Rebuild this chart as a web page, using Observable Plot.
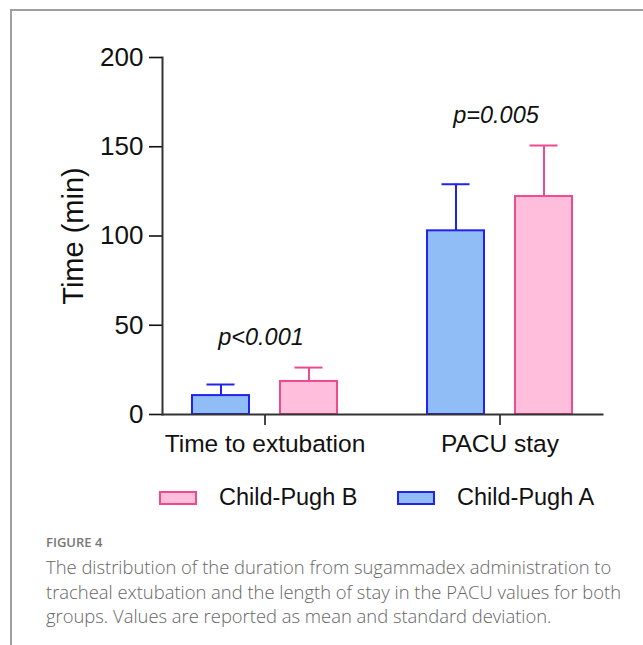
<!DOCTYPE html>
<html>
<head>
<meta charset="utf-8">
<script src="https://cdn.jsdelivr.net/npm/d3@7"></script>
<script src="https://cdn.jsdelivr.net/npm/@observablehq/plot@0.6"></script>
<style>
  html, body { margin: 0; padding: 0; background: #fff; }
  body { width: 643px; height: 645px; position: relative; overflow: hidden; font-family: "Liberation Sans", Arial, sans-serif; }
  #frame { position: absolute; left: 10px; top: 9px; right: -5px; bottom: -5px; border-top: 2px solid #a0a0a0; border-left: 2px solid #a0a0a0; }
  #chart { position: absolute; left: 0; top: 0; }
  #legend { position: absolute; top: 484px; left: 0; width: 643px; height: 30px; }
  .sw { position: absolute; display: flex; align-items: center; font-size: 23.5px; color: #111; }
  .box { width: 34px; height: 10px; margin-right: 22px; border: 2px solid; }
  #caption { position: absolute; left: 46px; top: 533px; width: 580px; font-family: "Open Sans", "Noto Sans", sans-serif; color: #666; }
  #caption .fig { font-size: 13px; font-weight: 600; color: #777; margin-bottom: 4px; }
  #caption .txt { font-size: 18.4px; line-height: 24.7px; font-weight: 300; color: #666; }
  #chart svg [aria-label="y-axis tick label"] { font-size: 26px; }
  #chart svg [aria-label="fx-axis tick label"] { font-size: 24.5px; }
</style>
</head>
<body>
<div id="frame"></div>
<div id="chart"></div>
<div id="legend"></div>
<div id="caption">
  <div class="fig">FIGURE 4</div>
  <div class="txt">The distribution of the duration from sugammadex administration to tracheal extubation and the length of stay in the PACU values for both groups. Values are reported as mean and standard deviation.</div>
</div>
<script>
const categories = ["Time to extubation", "PACU stay"];
const groups = ["Child-Pugh A", "Child-Pugh B"];
const meansA = [10.6, 102.9];
const sdA = [6.2, 26.1];
const meansB = [18.5, 122.1];
const sdB = [7.8, 28.6];
const pLabels = ["p<0.001", "p=0.005"];
const yTicks = [0, 50, 100, 150, 200];
const yLabel = "Time (min)";
const fillColors = ["#90bdf6", "#ffbedc"];
const strokeColors = ["#2222ee", "#ef4a8e"];

const data = [];
categories.forEach((c, i) => {
  data.push({category: c, group: groups[0], mean: meansA[i], sd: sdA[i]});
  data.push({category: c, group: groups[1], mean: meansB[i], sd: sdB[i]});
});
const annotations = categories.map((c, i) => ({
  category: c,
  label: pLabels[i],
  y: d3.max(data.filter(d => d.category === c), d => d.mean + d.sd) + 17
}));
const strokeOf = d => strokeColors[groups.indexOf(d.group)];

const H = 470, MT = 57, MB = 56, TICK = 11;

const chart = Plot.plot({
  width: 643,
  height: H,
  marginTop: MT,
  marginBottom: MB,
  marginLeft: 161,
  marginRight: 40,
  style: { fontFamily: "Liberation Sans, Arial, sans-serif", fontSize: "22px", color: "#111", background: "transparent" },
  fx: { domain: categories, paddingInner: 0.127, paddingOuter: 0, label: null },
  x: { domain: groups, paddingInner: 0.348, paddingOuter: 0.337, axis: null },
  y: { domain: [0, 200], label: null },
  color: { domain: groups, range: fillColors },
  marks: [
    Plot.axisY({ ticks: yTicks, tickSize: 13, tickPadding: 6, strokeWidth: 1.6, label: null }),
    Plot.axisFx({ anchor: "bottom", tickSize: 0, tickPadding: TICK + 9, label: null }),
    Plot.ruleX(categories, { fx: d => d, x: null, insetTop: H - MT - MB, insetBottom: -TICK, stroke: "#333", strokeWidth: 1.8 }),
    Plot.barY(data, { fx: "category", x: "group", y: "mean", fill: "group", stroke: strokeOf, strokeWidth: 2 }),
    Plot.ruleX(data, { fx: "category", x: "group", y1: "mean", y2: d => d.mean + d.sd, stroke: strokeOf, strokeWidth: 2 }),
    Plot.tickY(data, { fx: "category", x: "group", y: d => d.mean + d.sd, stroke: strokeOf, strokeWidth: 2, insetLeft: 14.5, insetRight: 14.5 }),
    Plot.text(annotations, { fx: "category", y: "y", text: "label", fontStyle: "italic", fontSize: 23.5, dx: -4, fill: "#111" }),
    Plot.text([yLabel], { facet: "super", frameAnchor: "left", textAnchor: "middle", text: d => d, rotate: -90, dx: -89, fontSize: 29, fill: "#111" }),
    Plot.frame({ facet: "super", anchor: "bottom", stroke: "#333", strokeWidth: 2 }),
    Plot.frame({ facet: "super", anchor: "left", stroke: "#333", strokeWidth: 2 })
  ]
});
document.getElementById("chart").appendChild(chart);

// legend (order as in reference: B then A)
const legend = document.getElementById("legend");
const legendOrder = [1, 0];
const legendLeft = [159, 397];
legendOrder.forEach((gi, k) => {
  const el = document.createElement("div");
  el.className = "sw";
  el.style.left = legendLeft[k] + "px";
  const box = document.createElement("div");
  box.className = "box";
  box.style.background = fillColors[gi];
  box.style.borderColor = strokeColors[gi];
  const t = document.createElement("span");
  t.textContent = groups[gi];
  el.appendChild(box);
  el.appendChild(t);
  legend.appendChild(el);
});
</script>
</body>
</html>
